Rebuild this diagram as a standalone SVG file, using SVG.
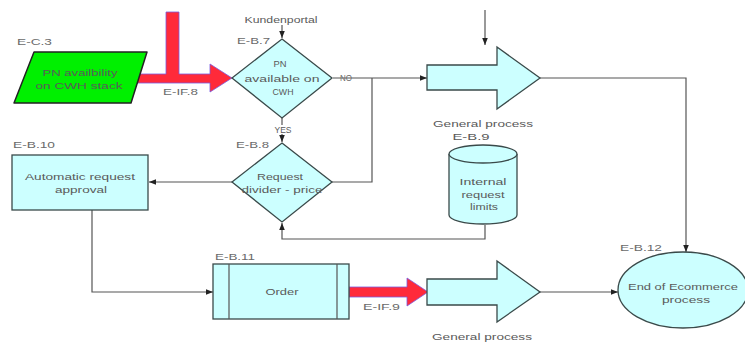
<svg xmlns="http://www.w3.org/2000/svg" width="745" height="344" viewBox="0 0 745 344">
<defs>
<style>
.n{fill:#CCFFFF;stroke:#3a4a4a;stroke-width:1.3}
.t{font-family:"Liberation Sans",Arial,sans-serif;font-size:9px;fill:#5a5a5a;text-anchor:middle}
.l{font-family:"Liberation Sans",Arial,sans-serif;font-size:9px;fill:#6a6a6a}
.c{fill:none;stroke:#555;stroke-width:1.2}
.r{fill:#FF2A3A;stroke:#7a5ce0;stroke-width:0.8}
</style>
<marker id="a" viewBox="0 0 10 10" refX="10" refY="5" markerWidth="6" markerHeight="6" orient="auto"><path d="M0,1 L10,5 L0,9 Z" fill="#222"/></marker>
</defs>
<rect width="745" height="344" fill="#fff"/>
<g id="connectors">
<path class="c" d="M282,25 V38" marker-end="url(#a)"/>
<path class="c" d="M333,78 H427" marker-end="url(#a)"/>
<path class="c" d="M332,182 H372 V78"/>
<path class="c" d="M485,10 V45" marker-end="url(#a)"/>
<path class="c" d="M282,118 V142" marker-end="url(#a)"/>
<path class="c" d="M232,182 H149" marker-end="url(#a)"/>
<path class="c" d="M485,225 V239 H282 V223" marker-end="url(#a)"/>
<path class="c" d="M540,78 H686 V252" marker-end="url(#a)"/>
<path class="c" d="M92,210 V292 H213" marker-end="url(#a)"/>
<path class="c" d="M540,292 H618" marker-end="url(#a)"/>
<path class="r" d="M137,74 H166 V12 H179 V74 H210 V64 L232,78 L210,92 V83 H137 Z"/>
<path class="r" d="M349,287 H407 V278 L428,292 L407,306 V297 H349 Z"/>
<text class="l" x="340" y="81" textLength="12" lengthAdjust="spacingAndGlyphs">NO</text>
<rect x="273" y="125" width="19" height="9" fill="#fff"/>
<text class="t" x="283" y="133" textLength="17" lengthAdjust="spacingAndGlyphs">YES</text>
<text class="l" x="163" y="95" textLength="35" lengthAdjust="spacingAndGlyphs">E-IF.8</text>
<text class="l" x="363" y="310" textLength="37" lengthAdjust="spacingAndGlyphs">E-IF.9</text>
<text class="t" x="281" y="23" textLength="73" lengthAdjust="spacingAndGlyphs">Kundenportal</text>
</g>
<g id="E-C.3">
<path d="M34,52 H147 L131,103 H14 Z" fill="#00F000" stroke="#222" stroke-width="1.5" stroke-linejoin="round"/>
<text class="t" x="80" y="76" textLength="75" lengthAdjust="spacingAndGlyphs">PN availbility</text>
<text class="t" x="79" y="89" textLength="87" lengthAdjust="spacingAndGlyphs">on CWH stack</text>
<text class="l" x="17" y="45" textLength="35" lengthAdjust="spacingAndGlyphs">E-C.3</text>
</g>
<g id="E-B.7">
<path class="n" d="M282,39 L332,78 L282,118 L232,78 Z"/>
<text class="t" x="280" y="67" textLength="13" lengthAdjust="spacingAndGlyphs">PN</text>
<text class="t" x="282" y="82" textLength="75" lengthAdjust="spacingAndGlyphs">available on</text>
<text class="t" x="283" y="95" textLength="21" lengthAdjust="spacingAndGlyphs">CWH</text>
<text class="l" x="237" y="44" textLength="33" lengthAdjust="spacingAndGlyphs">E-B.7</text>
</g>
<g id="E-B.8">
<path class="n" d="M282,143 L332,182 L282,222 L232,182 Z"/>
<text class="t" x="280" y="180" textLength="46" lengthAdjust="spacingAndGlyphs">Request</text>
<text class="t" x="282" y="193" textLength="81" lengthAdjust="spacingAndGlyphs">divider - price</text>
<text class="l" x="236" y="148" textLength="33" lengthAdjust="spacingAndGlyphs">E-B.8</text>
</g>
<g id="GP1">
<path class="n" d="M427,65 H497 V47 L540,78 L497,109 V90 H427 Z"/>
<text class="t" x="483" y="127" textLength="100" lengthAdjust="spacingAndGlyphs">General process</text>
</g>
<g id="E-B.9">
<path class="n" d="M449,154 V215 A34,9 0 0 0 517,215 V154"/>
<ellipse class="n" cx="483" cy="154" rx="34" ry="9"/>
<text class="t" x="483" y="185" textLength="47" lengthAdjust="spacingAndGlyphs">Internal</text>
<text class="t" x="483" y="198" textLength="43" lengthAdjust="spacingAndGlyphs">request</text>
<text class="t" x="484" y="210" textLength="28" lengthAdjust="spacingAndGlyphs">limits</text>
<text class="t" x="471" y="140" textLength="37" lengthAdjust="spacingAndGlyphs">E-B.9</text>
</g>
<g id="E-B.10">
<rect class="n" x="12" y="155" width="136" height="55"/>
<text class="t" x="80" y="180" textLength="110" lengthAdjust="spacingAndGlyphs">Automatic request</text>
<text class="t" x="81" y="193" textLength="52" lengthAdjust="spacingAndGlyphs">approval</text>
<text class="l" x="13" y="148" textLength="42" lengthAdjust="spacingAndGlyphs">E-B.10</text>
</g>
<g id="E-B.11">
<rect class="n" x="213" y="264" width="136" height="55"/>
<path class="c" d="M229,264 V319 M337,264 V319"/>
<text class="t" x="282" y="295" textLength="33" lengthAdjust="spacingAndGlyphs">Order</text>
<text class="l" x="215" y="260" textLength="40" lengthAdjust="spacingAndGlyphs">E-B.11</text>
</g>
<g id="GP2">
<path class="n" d="M427,279 H497 V261 L540,292 L497,322 V305 H427 Z"/>
<text class="t" x="482" y="340" textLength="100" lengthAdjust="spacingAndGlyphs">General process</text>
</g>
<g id="E-B.12">
<ellipse class="n" cx="683" cy="290" rx="65" ry="38"/>
<text class="t" x="683" y="290" textLength="110" lengthAdjust="spacingAndGlyphs">End of Ecommerce</text>
<text class="t" x="686" y="303" textLength="48" lengthAdjust="spacingAndGlyphs">process</text>
<text class="l" x="620" y="251" textLength="42" lengthAdjust="spacingAndGlyphs">E-B.12</text>
</g>
</svg>
